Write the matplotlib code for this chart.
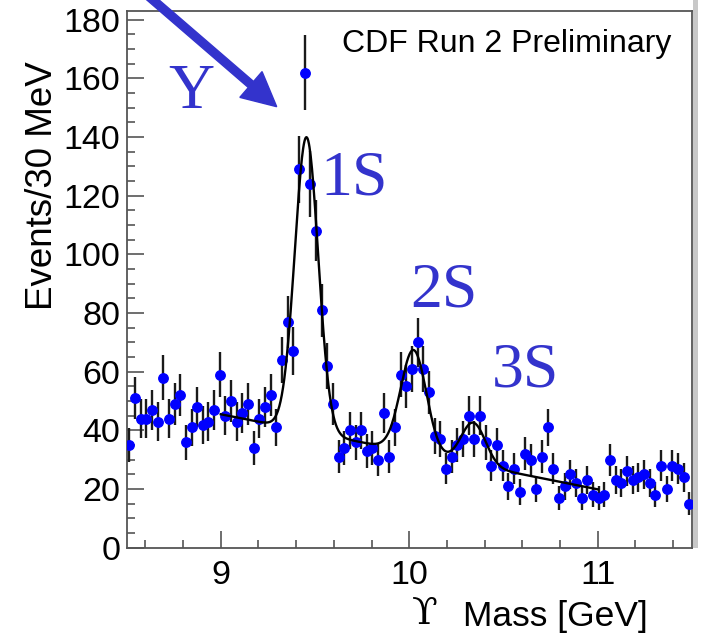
import numpy as np
import matplotlib
matplotlib.use("Agg")
import matplotlib.pyplot as plt
from matplotlib.patches import FancyArrow, Rectangle
from matplotlib.ticker import MultipleLocator

# Events per 30 MeV bin, 8.5 - 11.5 GeV (100 bins)
bin_lo = 8.5
bin_width = 0.03
counts = [35, 51, 44, 44, 47, 43, 58, 44, 49, 52,
          36, 41, 48, 42, 43, 47, 59, 45, 50, 43,
          46, 49, 34, 44, 48, 52, 41, 64, 77, 67,
          129, 162, 124, 108, 81, 62, 49, 31, 34, 40,
          36, 40, 33, 34, 30, 46, 31, 41, 59, 55,
          61, 70, 61, 53, 38, 37, 27, 31, 35, 37,
          45, 37, 45, 36, 28, 35, 28, 21, 27, 19,
          32, 30, 20, 31, 41, 27, 17, 21, 25, 22,
          17, 23, 18, 17, 18, 30, 23, 22, 26, 23,
          24, 25, 22, 18, 28, 20, 28, 27, 24, 15]

# fit: linear background + three gaussians
fit_range = [9.0, 11.0]
bkg_at_9 = 45.5
bkg_slope = -12.8
peak_mass = [9.455, 10.023, 10.34]
peak_sigma = [0.062, 0.068, 0.065]
peak_amp = [100.3, 35.0, 14.3]

peak_names = ["1S", "2S", "3S"]
peak_label_pos = [(9.529, 120.3), (10.005, 82.2), (10.437, 54.9)]

counts = np.array(counts, dtype=float)
centers = bin_lo + bin_width * (np.arange(len(counts)) + 0.5)
errors = np.sqrt(counts)

xf = np.linspace(fit_range[0], fit_range[1], 600)
yf = bkg_at_9 + bkg_slope * (xf - 9.0)
for m, s, a in zip(peak_mass, peak_sigma, peak_amp):
    yf = yf + a * np.exp(-0.5 * ((xf - m) / s) ** 2)

W, H = 710, 633
fig = plt.figure(figsize=(W / 100, H / 100), dpi=100)
ax = fig.add_axes([126.5 / W, 1 - 547.7 / H, (692 - 126.5) / W, (547.7 - 11) / H])

sans = ["Liberation Sans", "DejaVu Sans"]
serif = ["Liberation Serif", "DejaVu Serif"]
blue_txt = "#3333CC"
frame = "#555555"

ax.errorbar(centers, counts, yerr=errors, fmt="o", color="#0000FF", ms=6.8,
            ecolor="#1a1a1a", elinewidth=1.7, capsize=0, zorder=3)
ax.plot(xf, yf, color="black", lw=1.7, zorder=4)

ax.set_xlim(8.5, 11.5)
ax.set_ylim(0, 183)
ax.xaxis.set_major_locator(MultipleLocator(1))
ax.xaxis.set_minor_locator(MultipleLocator(0.2))
ax.yaxis.set_major_locator(MultipleLocator(20))
ax.yaxis.set_minor_locator(MultipleLocator(5))
ax.tick_params(which="both", direction="in", color=frame, width=1.2,
               top=False, right=False)
ax.tick_params(which="major", length=12)
ax.tick_params(which="minor", length=6)
ax.tick_params(axis="x", which="major", pad=9)
ax.tick_params(axis="y", which="major", pad=4.5)
for lab in ax.get_xticklabels() + ax.get_yticklabels():
    lab.set_family(sans)
    lab.set_fontsize(24.5)
for sp in ax.spines.values():
    sp.set_color(frame)
    sp.set_linewidth(1.3)

# axis titles
fig.text(412 / W, 1 - 624 / H, "\u03d2", family=["DejaVu Serif"], fontsize=27,
         ha="left", va="baseline")
fig.text(648 / W, 1 - 626 / H, "Mass [GeV]", family=sans, fontsize=25.5,
         ha="right", va="baseline")
fig.text(42.5 / W, 1 - 61 / H, "Events/30 MeV", family=sans, fontsize=26.5,
         rotation=90, ha="center", va="top")
fig.text(671.7 / W, 1 - 51.7 / H, "CDF Run 2 Preliminary", family=sans,
         fontsize=23, ha="right", va="baseline")

# peak labels
for name, (lx, ly) in zip(peak_names, peak_label_pos):
    ax.text(lx, ly, name, family=serif, fontsize=46, color=blue_txt,
            ha="left", va="baseline")
ax.text(8.719, 149.9, "\u03a5", family=serif, fontsize=46, color=blue_txt,
        ha="left", va="baseline")

# arrow pointing at the 1S peak (figure pixels -> inches)
x0, y0 = 140.6, -10.7
x1, y1 = 276.7, 106.7
arr = FancyArrow(x0 / 100, (H - y0) / 100, (x1 - x0) / 100, -(y1 - y0) / 100,
                 width=0.08, head_width=0.34, head_length=0.34,
                 length_includes_head=True, color=blue_txt,
                 transform=fig.dpi_scale_trans, clip_on=False)
fig.patches.append(arr)

# grey edge on the right of the frame
fig.patches.append(Rectangle((693 / W, 1 - 548 / H), 4.5 / W, 548 / H,
                             transform=fig.transFigure, color="#C8C8C8", lw=0))

fig.savefig("out.png", dpi=100)
